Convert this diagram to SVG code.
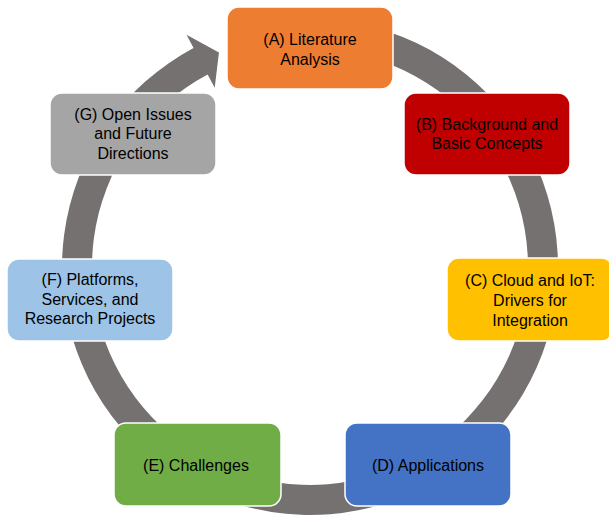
<svg xmlns="http://www.w3.org/2000/svg" width="609" height="516" viewBox="0 0 609 516">
<style>
.box{stroke:#ffffff;stroke-width:1.5}
.t{font-family:"Liberation Sans",Arial,sans-serif;font-size:16px;fill:#000000;text-anchor:middle}
</style>
<rect width="609" height="516" fill="#ffffff"/>
<g id="connectors">
<path id="cycle-arrow" fill="#767171" d="M331.62,19.94 A248,248 0 1 1 193.57,48.03 L186.53,34.78 L218.96,52.52 L214.70,87.76 L207.66,74.52 A218,218 0 1 0 329.0,49.83 Z"/>
</g>
<g id="node-A">
<rect class="box" x="227" y="7" width="166" height="82" rx="12" fill="#ED7D31"/>
<text class="t" x="310" y="45">(A) Literature</text>
<text class="t" x="310" y="64.5">Analysis</text>
</g>
<g id="node-B">
<rect class="box" x="404" y="93" width="166" height="82" rx="12" fill="#C00000"/>
<text class="t" x="487" y="130">(B) Background and</text>
<text class="t" x="487" y="149">Basic Concepts</text>
</g>
<g id="node-C">
<rect class="box" x="447" y="258" width="166" height="83" rx="12" fill="#FFC000"/>
<text class="t" x="530" y="286">(C) Cloud and IoT:</text>
<text class="t" x="530" y="306">Drivers for</text>
<text class="t" x="530" y="326">Integration</text>
</g>
<g id="node-D">
<rect class="box" x="345" y="423" width="166" height="83" rx="12" fill="#4472C4"/>
<text class="t" x="428" y="470.5">(D) Applications</text>
</g>
<g id="node-E">
<rect class="box" x="114" y="423" width="167" height="83" rx="12" fill="#70AD47"/>
<text class="t" x="196" y="470.5">(E) Challenges</text>
</g>
<g id="node-F">
<rect class="box" x="7" y="259" width="166" height="82" rx="12" fill="#9DC3E6"/>
<text class="t" x="90" y="285">(F) Platforms,</text>
<text class="t" x="90" y="304.5">Services, and</text>
<text class="t" x="90" y="324">Research Projects</text>
</g>
<g id="node-G">
<rect class="box" x="50" y="93" width="166" height="82" rx="12" fill="#A5A5A5"/>
<text class="t" x="133" y="119.5">(G) Open Issues</text>
<text class="t" x="133" y="139">and Future</text>
<text class="t" x="133" y="158.5">Directions</text>
</g>
</svg>
